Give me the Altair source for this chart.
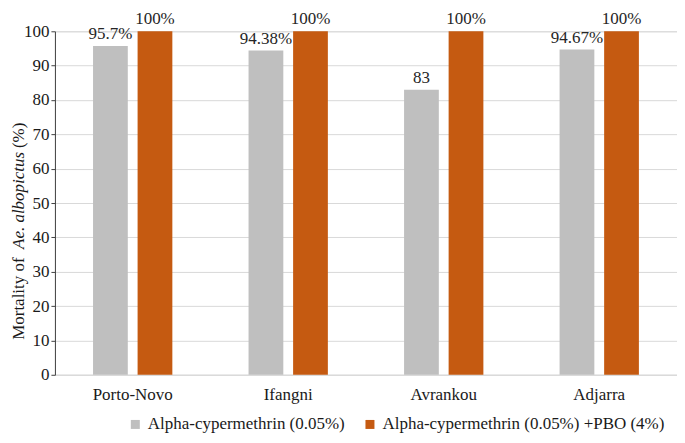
import altair as alt
import pandas as pd

sites = ["Porto-Novo", "Ifangni", "Avrankou", "Adjarra"]
series = ["Alpha-cypermethrin (0.05%)", "Alpha-cypermethrin (0.05%) +PBO (4%)"]
alpha_vals = [95.7, 94.38, 83, 94.67]
pbo_vals = [100, 100, 100, 100]
alpha_labels = ["95.7%", "94.38%", "83", "94.67%"]
pbo_labels = ["100%", "100%", "100%", "100%"]
colors = ["#BFBFBF", "#C55A11"]
y_ticks = [0, 10, 20, 30, 40, 50, 60, 70, 80, 90, 100]

rows = []
for i, s in enumerate(sites):
    rows.append({"site": s, "series": series[0], "value": alpha_vals[i], "label": alpha_labels[i]})
    rows.append({"site": s, "series": series[1], "value": pbo_vals[i], "label": pbo_labels[i]})
df = pd.DataFrame(rows)

FONT = "Liberation Serif, Times New Roman, DejaVu Serif, serif"

x_enc = alt.X("site:N", sort=sites,
              scale=alt.Scale(paddingInner=0.49, paddingOuter=0.245),
              axis=alt.Axis(title=None, ticks=False, labelAngle=0, labelPadding=12,
                            labelFontSize=17, labelColor="#1a1a1a", labelFont=FONT,
                            domainColor="#D9D9D9", domainWidth=1))
xo_enc = alt.XOffset("series:N", sort=series,
                     scale=alt.Scale(paddingInner=0.22, paddingOuter=0))
y_enc = alt.Y("value:Q", scale=alt.Scale(domain=[0, 100], nice=False, zero=True),
              axis=alt.Axis(title=None, values=y_ticks, tickCount=11, labelOverlap=False,
                            grid=True, gridColor="#D9D9D9",
                            domainColor="#404040", tickColor="#404040", tickSize=4,
                            labelPadding=2, labelFontSize=17, labelColor="#1a1a1a",
                            labelFont=FONT))

bars = alt.Chart(df).mark_bar().encode(
    x=x_enc, xOffset=xo_enc, y=y_enc,
    color=alt.Color("series:N", sort=series,
                    scale=alt.Scale(domain=series, range=colors),
                    legend=alt.Legend(title=None, orient="none", legendX=72, legendY=385,
                                      direction="horizontal", symbolType="square",
                                      symbolSize=81, symbolStrokeWidth=0,
                                      labelFontSize=17, labelFont=FONT,
                                      labelColor="#1a1a1a", labelLimit=400,
                                      columnPadding=16, labelOffset=4)),
)

labels = alt.Chart(df).mark_text(dy=-7, fontSize=17, font=FONT, color="#262626",
                                 baseline="alphabetic").encode(
    x=x_enc, xOffset=xo_enc, y=y_enc, text="label:N",
)

t1 = alt.Chart(pd.DataFrame({"t": ["Mortality of"]})).mark_text(
    angle=270, align="left", baseline="alphabetic", fontSize=17, font=FONT, color="#1a1a1a"
).encode(x=alt.value(-31), y=alt.value(309), text="t:N")
t2 = alt.Chart(pd.DataFrame({"t": ["Ae. albopictus"]})).mark_text(
    angle=270, align="left", baseline="alphabetic", fontSize=17, font=FONT,
    fontStyle="italic", color="#1a1a1a"
).encode(x=alt.value(-31), y=alt.value(218), text="t:N")
t3 = alt.Chart(pd.DataFrame({"t": ["(%)"]})).mark_text(
    angle=270, align="left", baseline="alphabetic", fontSize=17, font=FONT, color="#1a1a1a"
).encode(x=alt.value(-31), y=alt.value(117), text="t:N")

chart = alt.layer(bars, labels, t1, t2, t3).properties(
    width=623, height=344,
    autosize=alt.AutoSizeParams(type="none"),
    padding={"left": 47, "top": 23, "right": 0, "bottom": 60},
).configure_view(stroke=None).configure(font=FONT)

chart.save("out.html", embed_options={"renderer": "svg", "actions": False})
